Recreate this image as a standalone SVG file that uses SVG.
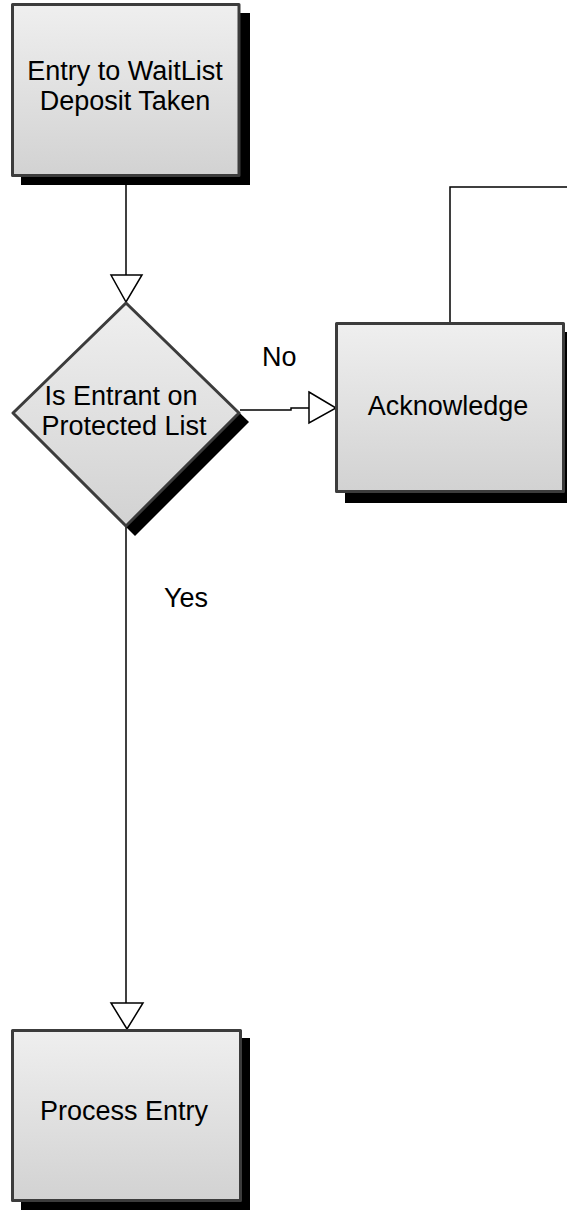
<svg xmlns="http://www.w3.org/2000/svg" width="567" height="1210" viewBox="0 0 567 1210">
<defs>
<linearGradient id="g" x1="0" y1="0" x2="0" y2="1">
<stop offset="0" stop-color="#efefef"/>
<stop offset="1" stop-color="#d2d2d2"/>
</linearGradient>
<style>
.sh{fill:#000}
.bx{fill:url(#g);stroke:#3c3c3c;stroke-width:3;stroke-linejoin:round}
.t{font-family:"Liberation Sans",Arial,sans-serif;font-size:27px;fill:#000}
.c{text-anchor:middle}
.ln{fill:none;stroke:#000;stroke-width:1.5}
.ah{fill:#fff;stroke:#000;stroke-width:1.5;stroke-linejoin:miter}
</style>
</defs>
<rect width="567" height="1210" fill="#fff"/>
<g id="connectors">
<path class="ln" d="M126,177 V275"/>
<polygon class="ah" points="111,275 142,275 126,302"/>
<path class="ln" d="M240,410 H291 V408 H309"/>
<polygon class="ah" points="309,392 336,408 309,423"/>
<path class="ln" d="M126,527 V1003"/>
<polygon class="ah" points="111,1003 143,1003 127,1029"/>
<path class="ln" d="M450,322 V187 H567"/>
</g>
<g id="entry">
<rect class="sh" x="21" y="13" width="229" height="172"/>
<rect class="bx" x="12.5" y="4.5" width="226.5" height="171"/>
<text class="t c" x="125" y="80">Entry to WaitList</text>
<text class="t c" x="125" y="110">Deposit Taken</text>
</g>
<g id="decision">
<polygon class="sh" points="135,311 249,422 135,536 21,422"/>
<polygon class="bx" points="126,303 239,413 126,526 13,413"/>
<text class="t c" x="121" y="405">Is Entrant on</text>
<text class="t c" x="124" y="435">Protected List</text>
</g>
<g id="acknowledge">
<rect class="sh" x="345" y="332" width="230" height="171"/>
<rect class="bx" x="336.5" y="323.5" width="227" height="168"/>
<text class="t c" x="448" y="415">Acknowledge</text>
</g>
<g id="process">
<rect class="sh" x="21" y="1038" width="229" height="172"/>
<rect class="bx" x="12.5" y="1030.5" width="228" height="170"/>
<text class="t c" x="124" y="1120">Process Entry</text>
</g>
<g id="labels">
<text class="t" x="262" y="366">No</text>
<text class="t" x="164" y="607">Yes</text>
</g>
</svg>
